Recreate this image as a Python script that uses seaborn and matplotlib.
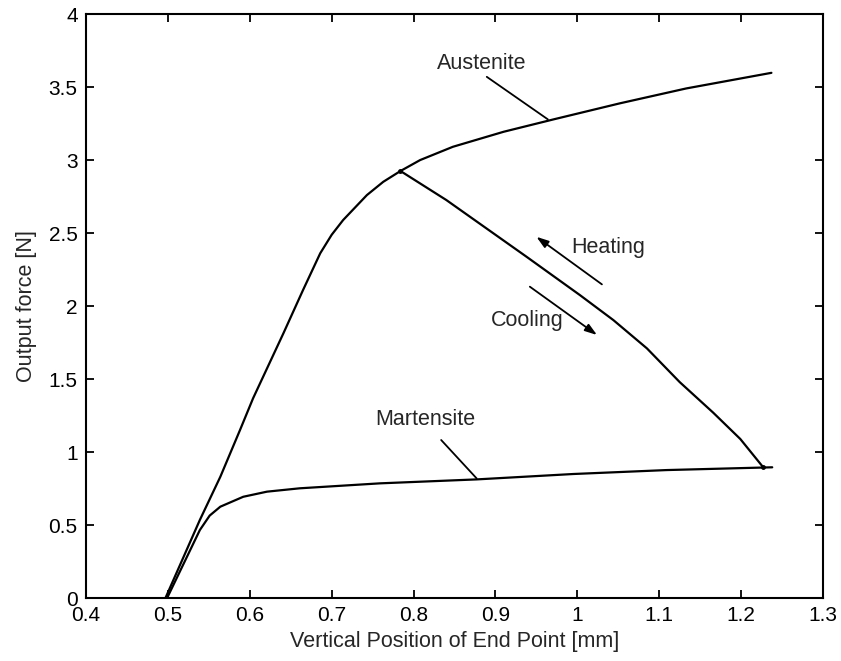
import matplotlib
matplotlib.use("Agg")
import matplotlib.pyplot as plt
import seaborn as sns
import pandas as pd

# Austenite (upper) curve
aus_x = [0.497, 0.539, 0.564, 0.588, 0.604, 0.641, 0.665, 0.686, 0.700, 0.714, 0.743, 0.763,
         0.784, 0.808, 0.848, 0.910, 0.971, 1.052, 1.133, 1.237]
aus_y = [0.0, 0.535, 0.831, 1.151, 1.369, 1.814, 2.111, 2.363, 2.490, 2.591, 2.762, 2.853,
         2.927, 3.002, 3.093, 3.196, 3.281, 3.391, 3.493, 3.600]

# Martensite (lower) curve
mart_x = [0.499, 0.539, 0.551, 0.564, 0.592, 0.621, 0.661, 0.759, 0.877, 0.995, 1.109, 1.238]
mart_y = [0.0, 0.466, 0.565, 0.626, 0.694, 0.729, 0.752, 0.786, 0.813, 0.850, 0.877, 0.896]

# Transition (heating / cooling) path
trans_x = [0.784, 0.840, 0.938, 1.003, 1.044, 1.085, 1.125, 1.166, 1.199, 1.227]
trans_y = [2.927, 2.728, 2.339, 2.077, 1.905, 1.711, 1.480, 1.270, 1.090, 0.896]

x_ticks = [0.4, 0.5, 0.6, 0.7, 0.8, 0.9, 1.0, 1.1, 1.2, 1.3]
x_tick_labels = ["0.4", "0.5", "0.6", "0.7", "0.8", "0.9", "1", "1.1", "1.2", "1.3"]
y_ticks = [0, 0.5, 1, 1.5, 2, 2.5, 3, 3.5, 4]
y_tick_labels = ["0", "0.5", "1", "1.5", "2", "2.5", "3", "3.5", "4"]

sns.set_theme(style="ticks")
plt.rcParams['font.family'] = ['Liberation Sans', 'DejaVu Sans']

fig = plt.figure(figsize=(8.41, 6.61), dpi=100)
ax = fig.add_axes([0.1023, 0.0953, 0.8763, 0.8828])

df_a = pd.DataFrame({"x": aus_x, "y": aus_y})
df_m = pd.DataFrame({"x": mart_x, "y": mart_y})
df_t = pd.DataFrame({"x": trans_x, "y": trans_y})
for d in (df_a, df_m, df_t):
    sns.lineplot(data=d, x="x", y="y", sort=False, color="black", linewidth=1.6,
                 ax=ax, estimator=None)

# small dots at the junctions
ax.plot([trans_x[0], trans_x[-1]], [trans_y[0], trans_y[-1]], "o", color="black",
        markersize=2.5)

ax.set_xlim(0.4, 1.3)
ax.set_ylim(0, 4)
ax.set_xticks(x_ticks)
ax.set_xticklabels(x_tick_labels)
ax.set_yticks(y_ticks)
ax.set_yticklabels(y_tick_labels)
ax.tick_params(direction="in", length=6, width=1.3, top=True, right=True,
               labelsize=15, colors="black", pad=6)
for s in ax.spines.values():
    s.set_visible(True)
    s.set_linewidth(1.5)
    s.set_color("black")
ax.set_facecolor("white")
ax.set_xlabel("Vertical Position of End Point [mm]", fontsize=15.5, labelpad=4)
ax.set_ylabel("Output force [N]", fontsize=15.5, labelpad=8)

fs = 15.5
# Labels with pointer lines
ax.annotate("Austenite", xy=(0.964, 3.281), xytext=(0.829, 3.667), fontsize=fs,
            ha="left", va="center",
            arrowprops=dict(arrowstyle="-", color="black", lw=1.3,
                            shrinkA=0, shrinkB=0, relpos=(0.5, 0)))
ax.annotate("Martensite", xy=(0.877, 0.820), xytext=(0.753, 1.227), fontsize=fs,
            ha="left", va="center",
            arrowprops=dict(arrowstyle="-", color="black", lw=1.3,
                            shrinkA=0, shrinkB=0, relpos=(0.66, -0.5)))

# Heating / Cooling arrows
ax.annotate("", xy=(0.950, 2.476), xytext=(1.030, 2.150),
            arrowprops=dict(arrowstyle="-|>,head_length=0.6,head_width=0.2",
                            color="black", lw=1.3, shrinkA=0, shrinkB=0))
ax.text(0.993, 2.401, "Heating", fontsize=fs, ha="left", va="center")
ax.annotate("", xy=(1.024, 1.803), xytext=(0.942, 2.134),
            arrowprops=dict(arrowstyle="-|>,head_length=0.6,head_width=0.2",
                            color="black", lw=1.3, shrinkA=0, shrinkB=0))
ax.text(0.895, 1.901, "Cooling", fontsize=fs, ha="left", va="center")

fig.savefig("out.png", dpi=100, facecolor="white")
